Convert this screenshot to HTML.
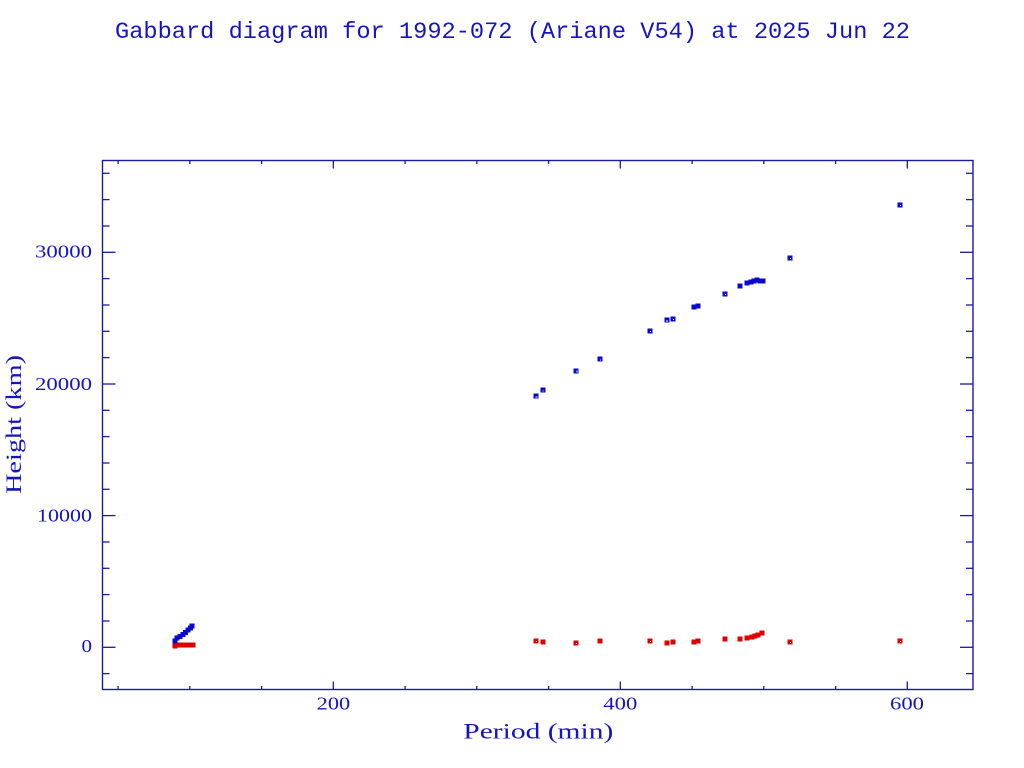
<!DOCTYPE html>
<html>
<head>
<meta charset="utf-8">
<style>
html,body{margin:0;padding:0;background:#fff;}
svg{display:block;}
</style>
</head>
<body>
<svg width="1024" height="768" viewBox="0 0 1024 768" xmlns="http://www.w3.org/2000/svg">
<rect width="1024" height="768" fill="#ffffff"/>
<!-- Title -->
<text x="115" y="38" font-family="Liberation Mono, monospace" font-size="23" fill="#1414c4" textLength="795" lengthAdjust="spacingAndGlyphs">Gabbard diagram for 1992-072 (Ariane V54) at 2025 Jun 22</text>

<!-- Frame -->
<rect x="102.5" y="160.5" width="870.5" height="529" fill="none" stroke="#1a1aa4" stroke-width="1.4"/>

<g stroke="#1a1aa4" stroke-width="1.3">
<!-- Y major ticks left/right -->
<line x1="102.5" y1="647.3" x2="115.5" y2="647.3"/><line x1="973" y1="647.3" x2="960" y2="647.3"/>
<line x1="102.5" y1="515.6" x2="115.5" y2="515.6"/><line x1="973" y1="515.6" x2="960" y2="515.6"/>
<line x1="102.5" y1="384" x2="115.5" y2="384"/><line x1="973" y1="384" x2="960" y2="384"/>
<line x1="102.5" y1="252.3" x2="115.5" y2="252.3"/><line x1="973" y1="252.3" x2="960" y2="252.3"/>
<!-- Y minor ticks -->
<line x1="102.5" y1="673.6" x2="109.5" y2="673.6"/><line x1="973" y1="673.6" x2="966" y2="673.6"/>
<line x1="102.5" y1="621" x2="109.5" y2="621"/><line x1="973" y1="621" x2="966" y2="621"/>
<line x1="102.5" y1="594.6" x2="109.5" y2="594.6"/><line x1="973" y1="594.6" x2="966" y2="594.6"/>
<line x1="102.5" y1="568.3" x2="109.5" y2="568.3"/><line x1="973" y1="568.3" x2="966" y2="568.3"/>
<line x1="102.5" y1="542" x2="109.5" y2="542"/><line x1="973" y1="542" x2="966" y2="542"/>
<line x1="102.5" y1="489.3" x2="109.5" y2="489.3"/><line x1="973" y1="489.3" x2="966" y2="489.3"/>
<line x1="102.5" y1="463" x2="109.5" y2="463"/><line x1="973" y1="463" x2="966" y2="463"/>
<line x1="102.5" y1="436.6" x2="109.5" y2="436.6"/><line x1="973" y1="436.6" x2="966" y2="436.6"/>
<line x1="102.5" y1="410.3" x2="109.5" y2="410.3"/><line x1="973" y1="410.3" x2="966" y2="410.3"/>
<line x1="102.5" y1="357.6" x2="109.5" y2="357.6"/><line x1="973" y1="357.6" x2="966" y2="357.6"/>
<line x1="102.5" y1="331.3" x2="109.5" y2="331.3"/><line x1="973" y1="331.3" x2="966" y2="331.3"/>
<line x1="102.5" y1="305" x2="109.5" y2="305"/><line x1="973" y1="305" x2="966" y2="305"/>
<line x1="102.5" y1="278.6" x2="109.5" y2="278.6"/><line x1="973" y1="278.6" x2="966" y2="278.6"/>
<line x1="102.5" y1="226" x2="109.5" y2="226"/><line x1="973" y1="226" x2="966" y2="226"/>
<line x1="102.5" y1="199.6" x2="109.5" y2="199.6"/><line x1="973" y1="199.6" x2="966" y2="199.6"/>
<line x1="102.5" y1="173.3" x2="109.5" y2="173.3"/><line x1="973" y1="173.3" x2="966" y2="173.3"/>
<!-- X major ticks -->
<line x1="333.3" y1="689.5" x2="333.3" y2="681.5"/><line x1="333.3" y1="160.5" x2="333.3" y2="168.5"/>
<line x1="620.3" y1="689.5" x2="620.3" y2="681.5"/><line x1="620.3" y1="160.5" x2="620.3" y2="168.5"/>
<line x1="907.3" y1="689.5" x2="907.3" y2="681.5"/><line x1="907.3" y1="160.5" x2="907.3" y2="168.5"/>
<!-- X minor ticks -->
<line x1="118.1" y1="689.5" x2="118.1" y2="686"/><line x1="118.1" y1="160.5" x2="118.1" y2="164"/>
<line x1="189.8" y1="689.5" x2="189.8" y2="686"/><line x1="189.8" y1="160.5" x2="189.8" y2="164"/>
<line x1="261.6" y1="689.5" x2="261.6" y2="686"/><line x1="261.6" y1="160.5" x2="261.6" y2="164"/>
<line x1="405.1" y1="689.5" x2="405.1" y2="686"/><line x1="405.1" y1="160.5" x2="405.1" y2="164"/>
<line x1="476.8" y1="689.5" x2="476.8" y2="686"/><line x1="476.8" y1="160.5" x2="476.8" y2="164"/>
<line x1="548.6" y1="689.5" x2="548.6" y2="686"/><line x1="548.6" y1="160.5" x2="548.6" y2="164"/>
<line x1="692.1" y1="689.5" x2="692.1" y2="686"/><line x1="692.1" y1="160.5" x2="692.1" y2="164"/>
<line x1="763.8" y1="689.5" x2="763.8" y2="686"/><line x1="763.8" y1="160.5" x2="763.8" y2="164"/>
<line x1="835.6" y1="689.5" x2="835.6" y2="686"/><line x1="835.6" y1="160.5" x2="835.6" y2="164"/>
</g>

<!-- Tick labels -->
<g font-family="Liberation Serif, serif" font-size="18" fill="#1414c4">
<text x="35" y="257.7" textLength="57" lengthAdjust="spacingAndGlyphs">30000</text>
<text x="35" y="390" textLength="57" lengthAdjust="spacingAndGlyphs">20000</text>
<text x="37" y="521.5" textLength="55" lengthAdjust="spacingAndGlyphs">10000</text>
<text x="81.5" y="652" textLength="10.5" lengthAdjust="spacingAndGlyphs">0</text>
<text x="316.7" y="709.5" textLength="33.5" lengthAdjust="spacingAndGlyphs">200</text>
<text x="603.3" y="709.5" textLength="34" lengthAdjust="spacingAndGlyphs">400</text>
<text x="890" y="709.5" textLength="34" lengthAdjust="spacingAndGlyphs">600</text>
</g>

<!-- Axis labels -->
<text x="463.3" y="738.3" font-family="Liberation Serif, serif" font-size="22" fill="#1414c4" textLength="150" lengthAdjust="spacingAndGlyphs">Period (min)</text>
<text transform="translate(21,494) rotate(-90)" x="0" y="0" font-family="Liberation Serif, serif" font-size="22" fill="#1414c4" textLength="139" lengthAdjust="spacingAndGlyphs">Height (km)</text>

<!-- Red points (perigee) -->
<g fill="#e00000">
<rect x="172.5" y="643.5" width="5" height="5"/>
<rect x="175.5" y="642.5" width="5" height="5"/>
<rect x="178.5" y="642.5" width="5" height="5"/>
<rect x="181.5" y="642.5" width="5" height="5"/>
<rect x="184.5" y="642.5" width="5" height="5"/>
<rect x="187.5" y="642.5" width="5" height="5"/>
<rect x="190.5" y="642.5" width="5" height="5"/>
<rect x="533.5" y="638.5" width="5" height="5"/>
<rect x="540.5" y="639.5" width="5" height="5"/>
<rect x="573.5" y="640.5" width="5" height="5"/>
<rect x="597.5" y="638.5" width="5" height="5"/>
<rect x="647.5" y="638.5" width="5" height="5"/>
<rect x="664.5" y="640.5" width="5" height="5"/>
<rect x="670.5" y="639.5" width="5" height="5"/>
<rect x="691.5" y="639.5" width="5" height="5"/>
<rect x="695.5" y="638.5" width="5" height="5"/>
<rect x="722.5" y="636.5" width="5" height="5"/>
<rect x="737.5" y="636.5" width="5" height="5"/>
<rect x="744.5" y="635.5" width="5" height="5"/>
<rect x="749.5" y="634.5" width="5" height="5"/>
<rect x="752.5" y="633.5" width="5" height="5"/>
<rect x="755.5" y="632.5" width="5" height="5"/>
<rect x="759.5" y="630.5" width="5" height="5"/>
<rect x="787.5" y="639.5" width="5" height="5"/>
<rect x="897.5" y="638.5" width="5" height="5"/>
</g>

<!-- Blue points (apogee) -->
<g fill="#0808d0">
<rect x="172.5" y="638.5" width="5" height="5"/>
<rect x="174.5" y="635.5" width="5" height="5"/>
<rect x="177.5" y="634" width="5" height="5"/>
<rect x="180.5" y="632" width="5" height="5"/>
<rect x="183" y="630" width="5" height="5"/>
<rect x="185.5" y="627.5" width="5" height="5"/>
<rect x="188" y="625.5" width="5" height="5"/>
<rect x="189.5" y="623.5" width="5" height="5"/>
<rect x="533.5" y="393.5" width="5" height="5"/>
<rect x="540.5" y="387.5" width="5" height="5"/>
<rect x="573.5" y="368.5" width="5" height="5"/>
<rect x="597.5" y="356.5" width="5" height="5"/>
<rect x="647.5" y="328.5" width="5" height="5"/>
<rect x="664.5" y="317.5" width="5" height="5"/>
<rect x="670.5" y="316.5" width="5" height="5"/>
<rect x="691.5" y="304.5" width="5" height="5"/>
<rect x="695.5" y="303.5" width="5" height="5"/>
<rect x="722.5" y="291.5" width="5" height="5"/>
<rect x="737.5" y="283.5" width="5" height="5"/>
<rect x="744.5" y="280.5" width="5" height="5"/>
<rect x="748.5" y="279.5" width="5" height="5"/>
<rect x="751.5" y="278.5" width="5" height="5"/>
<rect x="754.5" y="277.5" width="5" height="5"/>
<rect x="757.5" y="278.5" width="5" height="5"/>
<rect x="760.5" y="278.5" width="5" height="5"/>
<rect x="787.5" y="255.5" width="5" height="5"/>
<rect x="897.5" y="202.5" width="5" height="5"/>
</g>

<!-- small white inner dots in markers -->
<g fill="#ffffff">
<rect x="535.5" y="396.5" width="2" height="1"/>
<rect x="542.5" y="390.5" width="1" height="1"/>
<rect x="576.5" y="370.5" width="1" height="2"/>
<rect x="600" y="359.5" width="1" height="1"/>
<rect x="650" y="331" width="1" height="1"/>
<rect x="666.5" y="320" width="1" height="2"/>
<rect x="673" y="319" width="1" height="1"/>
<rect x="725" y="294" width="1" height="1"/>
<rect x="790" y="258" width="1" height="1"/>
<rect x="900" y="205" width="1" height="1"/>
<rect x="536" y="641" width="1" height="1"/>
<rect x="576" y="643" width="1" height="1"/>
<rect x="650" y="641" width="1" height="1"/>
<rect x="790" y="642" width="1" height="1"/>
<rect x="900" y="641" width="1" height="1"/>
</g>
</svg>
</body>
</html>
